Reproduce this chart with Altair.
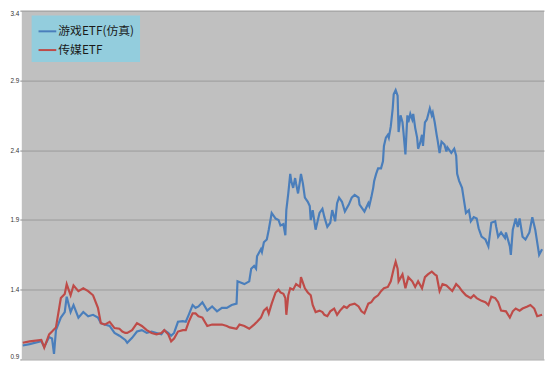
import altair as alt
import pandas as pd

# Game ETF (simulated): (trading-day index, normalised value)
game_points = [
    (0, 1.00), (7, 1.01), (19, 1.03), (22, 0.99), (27, 1.06), (30, 1.05), (32, 0.94), (34, 1.11),
    (39, 1.20), (43, 1.24), (45, 1.35), (49, 1.24), (52, 1.29), (57, 1.20), (62, 1.24), (67, 1.21),
    (72, 1.22), (77, 1.20), (80, 1.16), (84, 1.15), (89, 1.14), (94, 1.09), (99, 1.07), (105, 1.04),
    (107, 1.02), (112, 1.055), (117, 1.10), (122, 1.11), (127, 1.09), (132, 1.10), (137, 1.09),
    (142, 1.08), (145, 1.11), (149, 1.09), (152, 1.07), (155, 1.09), (159, 1.17), (164, 1.175),
    (167, 1.17), (170, 1.22), (174, 1.29), (177, 1.27), (180, 1.28), (184, 1.31), (189, 1.25),
    (194, 1.28), (199, 1.245), (204, 1.27), (209, 1.27), (214, 1.29), (219, 1.30), (220, 1.46),
    (227, 1.44), (232, 1.46), (234, 1.55), (237, 1.57), (239, 1.55), (240, 1.64), (244, 1.69),
    (245, 1.67), (247, 1.74), (250, 1.76), (252, 1.83), (255, 1.95), (259, 1.91), (262, 1.90),
    (264, 1.86), (267, 1.87), (269, 1.79), (270, 1.97), (272, 2.09), (274, 2.23), (275, 2.18),
    (277, 2.13), (279, 2.20), (280, 2.16), (282, 2.09), (284, 2.18), (285, 2.23), (287, 2.16),
    (289, 2.06), (292, 2.03), (294, 2.00), (295, 1.90), (297, 1.97), (300, 1.83), (304, 1.95),
    (307, 1.98), (309, 1.92), (312, 1.85), (315, 1.88), (317, 1.97), (319, 1.92), (320, 1.89),
    (322, 2.02), (324, 2.06), (327, 2.03), (330, 1.96), (334, 2.01), (337, 2.06), (340, 2.08),
    (344, 2.06), (345, 2.01), (349, 1.97), (350, 1.96), (354, 2.02), (355, 2.00), (357, 2.06),
    (359, 2.13), (360, 2.18), (362, 2.23), (364, 2.27), (367, 2.27), (369, 2.32), (370, 2.43),
    (372, 2.49), (374, 2.51), (375, 2.49), (377, 2.57), (379, 2.70), (380, 2.80), (382, 2.83),
    (384, 2.79), (385, 2.53), (387, 2.65), (389, 2.60), (390, 2.53), (392, 2.37), (394, 2.65),
    (395, 2.60), (397, 2.66), (399, 2.62), (400, 2.66), (402, 2.56), (404, 2.49), (405, 2.41),
    (407, 2.45), (409, 2.51), (410, 2.43), (412, 2.60), (414, 2.62), (417, 2.70), (419, 2.65),
    (420, 2.67), (422, 2.60), (424, 2.51), (425, 2.47), (427, 2.38), (429, 2.46), (432, 2.44),
    (434, 2.39), (435, 2.42), (439, 2.38), (442, 2.41), (444, 2.36), (445, 2.23), (447, 2.18),
    (450, 2.13), (452, 2.04), (454, 1.95), (457, 1.97), (459, 1.89), (462, 1.92), (465, 1.91),
    (467, 1.84), (470, 1.78), (474, 1.76), (477, 1.71), (480, 1.88), (484, 1.89), (485, 1.85),
    (487, 1.78), (490, 1.81), (494, 1.77), (495, 1.81), (499, 1.71), (500, 1.65), (502, 1.83),
    (505, 1.91), (507, 1.85), (509, 1.91), (512, 1.78), (515, 1.76), (519, 1.81), (522, 1.92),
    (525, 1.83), (529, 1.65), (532, 1.69),
]

# Media ETF: (trading-day index, normalised value)
media_points = [
    (0, 1.02), (7, 1.03), (19, 1.04), (22, 0.985), (27, 1.08), (30, 1.10), (34, 1.13), (39, 1.34),
    (43, 1.37), (45, 1.44), (49, 1.36), (52, 1.43), (57, 1.39), (62, 1.41), (67, 1.39), (72, 1.36),
    (77, 1.27), (80, 1.16), (84, 1.15), (89, 1.17), (94, 1.125), (99, 1.12), (102, 1.10), (105, 1.09),
    (107, 1.09), (112, 1.11), (117, 1.16), (122, 1.14), (127, 1.11), (132, 1.09), (137, 1.08),
    (142, 1.09), (145, 1.11), (149, 1.08), (152, 1.03), (155, 1.05), (159, 1.10), (164, 1.11),
    (167, 1.11), (170, 1.17), (174, 1.23), (177, 1.23), (180, 1.21), (184, 1.20), (189, 1.14),
    (194, 1.15), (199, 1.15), (204, 1.15), (209, 1.14), (212, 1.13), (219, 1.12), (222, 1.15),
    (227, 1.14), (232, 1.12), (237, 1.15), (240, 1.17), (244, 1.20), (247, 1.25), (250, 1.27),
    (252, 1.23), (255, 1.30), (259, 1.38), (262, 1.40), (264, 1.38), (267, 1.37), (269, 1.34),
    (270, 1.22), (272, 1.36), (274, 1.41), (277, 1.40), (280, 1.44), (284, 1.42), (285, 1.49),
    (289, 1.41), (292, 1.38), (295, 1.36), (297, 1.29), (300, 1.24), (304, 1.25), (307, 1.24),
    (309, 1.22), (312, 1.21), (315, 1.245), (319, 1.265), (322, 1.22), (325, 1.25), (329, 1.28),
    (332, 1.27), (335, 1.29), (340, 1.30), (344, 1.28), (347, 1.245), (350, 1.23), (354, 1.30),
    (357, 1.31), (360, 1.34), (364, 1.36), (367, 1.39), (370, 1.41), (374, 1.42), (377, 1.46),
    (380, 1.55), (382, 1.60), (384, 1.55), (385, 1.46), (389, 1.51), (392, 1.41), (395, 1.49),
    (399, 1.46), (402, 1.42), (405, 1.46), (409, 1.41), (412, 1.49), (415, 1.51), (419, 1.53),
    (422, 1.51), (424, 1.50), (427, 1.39), (430, 1.44), (434, 1.43), (437, 1.41), (440, 1.39),
    (444, 1.44), (447, 1.42), (450, 1.39), (454, 1.36), (459, 1.34), (462, 1.36), (465, 1.34),
    (470, 1.32), (474, 1.31), (477, 1.29), (480, 1.35), (484, 1.34), (487, 1.31), (490, 1.25),
    (495, 1.245), (499, 1.20), (502, 1.245), (505, 1.265), (509, 1.25), (512, 1.265), (517, 1.28),
    (520, 1.29), (524, 1.265), (527, 1.21), (532, 1.22),
]

series_names = ["游戏ETF(仿真)", "传媒ETF"]
series_colors = ["#4A7EBB", "#BE4B48"]
y_ticks = [0.9, 1.4, 1.9, 2.4, 2.9, 3.4]

df = pd.concat([
    pd.DataFrame(game_points, columns=["day", "value"]).assign(series=series_names[0]),
    pd.DataFrame(media_points, columns=["day", "value"]).assign(series=series_names[1]),
])

font = "Noto Sans CJK SC"

chart = alt.Chart(df).mark_line(strokeWidth=2.2, interpolate="linear").encode(
    x=alt.X("day:Q", scale=alt.Scale(domain=[-1, 534], nice=False, zero=False),
            axis=None),
    y=alt.Y("value:Q", scale=alt.Scale(domain=[0.9, 3.4], nice=False, zero=False),
            axis=alt.Axis(values=y_ticks, format=".1f", title=None, labelFontSize=6.5,
                          labelColor="#333333", labelFont="Liberation Sans",
                          tickSize=2, tickColor="#888888", labelPadding=1,
                          grid=True, gridColor="#9A9A9A", gridWidth=1,
                          domain=False, labelFlush=True)),
    color=alt.Color("series:N", scale=alt.Scale(domain=series_names, range=series_colors),
                    legend=alt.Legend(title=None, orient="none", legendX=10, legendY=5,
                                      direction="vertical", fillColor="#93CDDD",
                                      padding=6, symbolType="stroke",
                                      symbolSize=324, symbolStrokeWidth=2,
                                      labelFont=font, labelFontSize=12, labelColor="#1A1A1A",
                                      labelFontWeight="normal", rowPadding=3,
                                      labelOffset=1, labelLimit=200)),
    order=alt.Order("day:Q"),
).properties(
    width=530, height=354,
    background="white",
    padding={"left": 14, "top": 0, "right": 2, "bottom": 7},
    autosize=alt.AutoSizeParams(type="none"),
).configure_view(
    fill="#C0C0C0", stroke=None,
)

chart.save("out.html", embed_options={"renderer": "svg", "actions": False})
